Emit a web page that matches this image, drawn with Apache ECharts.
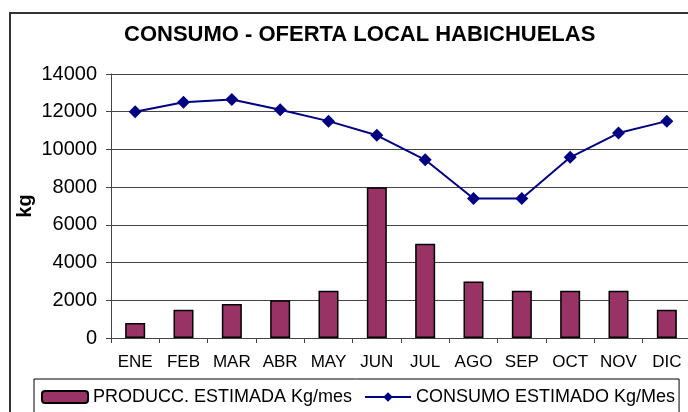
<!DOCTYPE html>
<html>
<head>
<meta charset="utf-8">
<script src="https://cdn.jsdelivr.net/npm/echarts@6/dist/echarts.min.js"></script>
<style>
html,body{margin:0;padding:0;background:#fff;}
#chart{width:688px;height:412px;}
</style>
</head>
<body>
<div id="chart"></div>
<script>
var meses = ['ENE','FEB','MAR','ABR','MAY','JUN','JUL','AGO','SEP','OCT','NOV','DIC'];
var produccion = [800,1500,1800,2000,2500,8000,5000,3000,2500,2500,2500,1500];
var consumo = [12000,12500,12650,12100,11500,10750,9450,7400,7400,9580,10870,11500];
var nombreProd = 'PRODUCC. ESTIMADA Kg/mes';
var nombreCons = 'CONSUMO ESTIMADO Kg/Mes';

var fuente = '"Liberation Sans", Arial, sans-serif';

var chart = echarts.init(document.getElementById('chart'));
var option = {
	animation: false,
	textStyle: {fontFamily: fuente},
	title: {
		text: 'CONSUMO - OFERTA LOCAL HABICHUELAS',
		left: 124,
		top: 24,
		padding: 0,
		textStyle: {fontSize: 22, fontWeight: 'bold', color: '#000', fontFamily: fuente}
	},
	graphic: [{
		type: 'rect',
		shape: {x: 10, y: 13, width: 700, height: 420},
		style: {fill: 'none', stroke: '#333', lineWidth: 2},
		silent: true,
		z: -1
	}],
	legend: {
		left: 34,
		top: 379,
		padding: [9, 4, 20, 7],
		itemGap: 12,
		itemWidth: 46,
		itemHeight: 12,
		borderColor: '#000',
		borderWidth: 1,
		textStyle: {fontSize: 18, color: '#000', fontFamily: fuente},
		data: [nombreProd, nombreCons]
	},
	grid: {left: 111, right: -3, top: 74, bottom: 74, containLabel: false, outerBoundsMode: 'none'},
	xAxis: {
		type: 'category',
		data: meses,
		boundaryGap: true,
		axisLine: {lineStyle: {color: '#444', width: 1}},
		axisTick: {show: true, length: 5, lineStyle: {color: '#444'}},
		axisLabel: {fontSize: 17, color: '#000', margin: 16, interval: 0}
	},
	yAxis: {
		type: 'value',
		min: 0,
		max: 14000,
		interval: 2000,
		name: 'kg',
		nameLocation: 'middle',
		nameRotate: 90,
		nameGap: 76,
		nameMoveOverlap: false,
		nameTextStyle: {fontSize: 20, fontWeight: 'bold', color: '#000'},
		axisLine: {show: true, lineStyle: {color: '#444', width: 1}},
		axisTick: {show: true, length: 5, lineStyle: {color: '#444'}},
		axisLabel: {fontSize: 20, color: '#000', margin: 14, formatter: function(v){ return String(v); }},
		splitLine: {show: true, lineStyle: {color: '#444', width: 1}}
	},
	series: [{
		name: nombreProd,
		type: 'bar',
		barWidth: 20,
		data: produccion,
		itemStyle: {color: '#993366', borderColor: '#000', borderWidth: 1.5}
	}, {
		name: nombreCons,
		type: 'line',
		data: consumo,
		symbol: 'diamond',
		symbolSize: 13,
		lineStyle: {color: '#000080', width: 2},
		itemStyle: {color: '#000080'}
	}]
};
chart.setOption(option);
</script>
</body>
</html>
